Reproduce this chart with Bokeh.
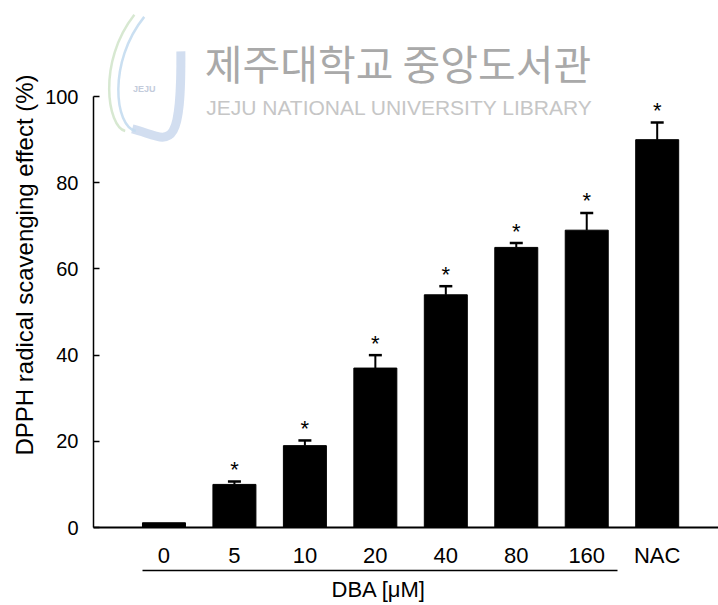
from bokeh.plotting import figure
from bokeh.models import FixedTicker, LinearAxis, Range1d, Label, ColumnDataSource, Title
from bokeh.embed import file_html
from bokeh.resources import INLINE
from bokeh.core.properties import value

# DPPH radical scavenging by DBA concentration, with NAC as positive control
groups = ["0", "5", "10", "20", "40", "80", "160", "NAC"]
scavenging = [1.1, 10.0, 19.0, 37.0, 54.0, 65.0, 69.0, 90.0]
sem = [0.0, 0.7, 1.2, 3.0, 2.0, 1.0, 4.0, 4.0]
significant = [False, True, True, True, True, True, True, True]
y_ticks = [0, 20, 40, 60, 80, 100]

FONT = "Liberation Sans"
BAR_WIDTH = 0.61
Y_TOP = 122.3   # headroom above 100 for the library watermark

xs = list(range(1, len(groups) + 1))
tops = [m + e for m, e in zip(scavenging, sem)]

bars = ColumnDataSource(dict(x=xs, top=scavenging))
err = ColumnDataSource(dict(
    x=[x for x, e in zip(xs, sem) if e > 0],
    mean=[m for m, e in zip(scavenging, sem) if e > 0],
    top=[t for t, e in zip(tops, sem) if e > 0],
))
stars = ColumnDataSource(dict(
    x=[x for x, s in zip(xs, significant) if s],
    y=[t for t, s in zip(tops, significant) if s],
    t=["*" for s in significant if s],
))

p = figure(width=718, height=605, output_backend="svg", toolbar_location=None,
           x_range=Range1d(0, 8.87), y_range=Range1d(0, Y_TOP),
           min_border_left=93, min_border_right=0, min_border_top=0,
           min_border_bottom=78)
p.outline_line_color = None
p.grid.visible = False

# faint library watermark (emblem strokes + name)
p.bezier(x0=[1.24], y0=[110.5], x1=[0.55], y1=[92.5], cx0=[1.25], cy0=[85.0],
         cx1=[1.05], cy1=[90.5], line_color="#c7d6ec", line_width=9, line_alpha=0.8)
p.bezier(x0=[0.58, 0.72], y0=[119.0, 118.5], x1=[0.45, 0.60], y1=[92.0, 92.0],
         cx0=[0.05, 0.20], cy0=[108.0, 108.0], cx1=[0.20, 0.30], cy1=[93.0, 93.0],
         line_color=["#d3e6cc", "#c4dcef"], line_width=2.5, line_alpha=0.9)
p.add_layout(Label(x=0.72, y=100.5, text="JEJU", text_font=FONT,
                   text_font_size="9px", text_font_style="bold",
                   text_align="center", text_color="#c3cbdb"))
p.add_layout(Label(x=1.58, y=115.0, text="제주대학교 중앙도서관",
                   text_font="Noto Sans CJK KR", text_font_size="41px",
                   text_baseline="top", text_color="#a9a9a9"))
p.add_layout(Label(x=1.6, y=100.2, text="JEJU NATIONAL UNIVERSITY  LIBRARY",
                   text_font=FONT, text_font_size="21px",
                   text_baseline="top", text_color="#c6c6c6"))

p.vbar(x="x", top="top", width=BAR_WIDTH, source=bars,
       fill_color="black", line_color="black")
p.segment(x0="x", y0="mean", x1="x", y1="top", source=err,
          line_color="black", line_width=2)
p.scatter(x="x", y="top", source=err, marker="dash", size=13,
          line_color="black", line_width=2.5)
p.text(x="x", y="y", text="t", source=stars, y_offset=-12,
       text_align="center", text_baseline="middle",
       text_font=value(FONT), text_font_size="22px", text_color="black")

# category axis along y = 0
xa = p.xaxis[0]
xa.ticker = FixedTicker(ticks=xs)
xa.major_label_overrides = {x: g for x, g in zip(xs, groups)}
xa.major_tick_line_color = None
xa.minor_tick_line_color = None
xa.axis_line_width = 2
xa.major_label_standoff = 9
xa.major_label_text_font = FONT
xa.major_label_text_font_size = "22px"
xa.major_label_text_color = "black"

# bracket spanning the DBA doses, with its caption centred beneath it
bracket = LinearAxis(ticker=FixedTicker(ticks=[]),
                     bounds=(xs[0] - BAR_WIDTH / 2, xs[6] + 0.44))
bracket.axis_line_width = 1.5
bracket.major_tick_line_color = None
bracket.minor_tick_line_color = None
p.add_layout(bracket, "below")
p.add_layout(Title(text="DBA [μM]", align="left", offset=238,
                   standoff=8, text_font=FONT, text_font_size="22px",
                   text_font_style="normal", text_color="black"), "below")

ya = p.yaxis[0]
ya.ticker = FixedTicker(ticks=y_ticks)
ya.bounds = (y_ticks[0], y_ticks[-1])
ya.axis_line_width = 1.5
ya.major_tick_in = 6
ya.major_tick_out = 0
ya.major_tick_line_width = 1.5
ya.minor_tick_line_color = None
ya.major_label_standoff = 15
ya.major_label_text_font = FONT
ya.major_label_text_font_size = "20px"
ya.major_label_text_color = "black"
p.add_layout(Title(text="DPPH radical scavenging effect (%)", align="left",
                   offset=72, standoff=9, text_font=FONT,
                   text_font_size="24px", text_font_style="normal",
                   text_color="black"), "left")

open("out.html", "w").write(file_html(p, INLINE))
